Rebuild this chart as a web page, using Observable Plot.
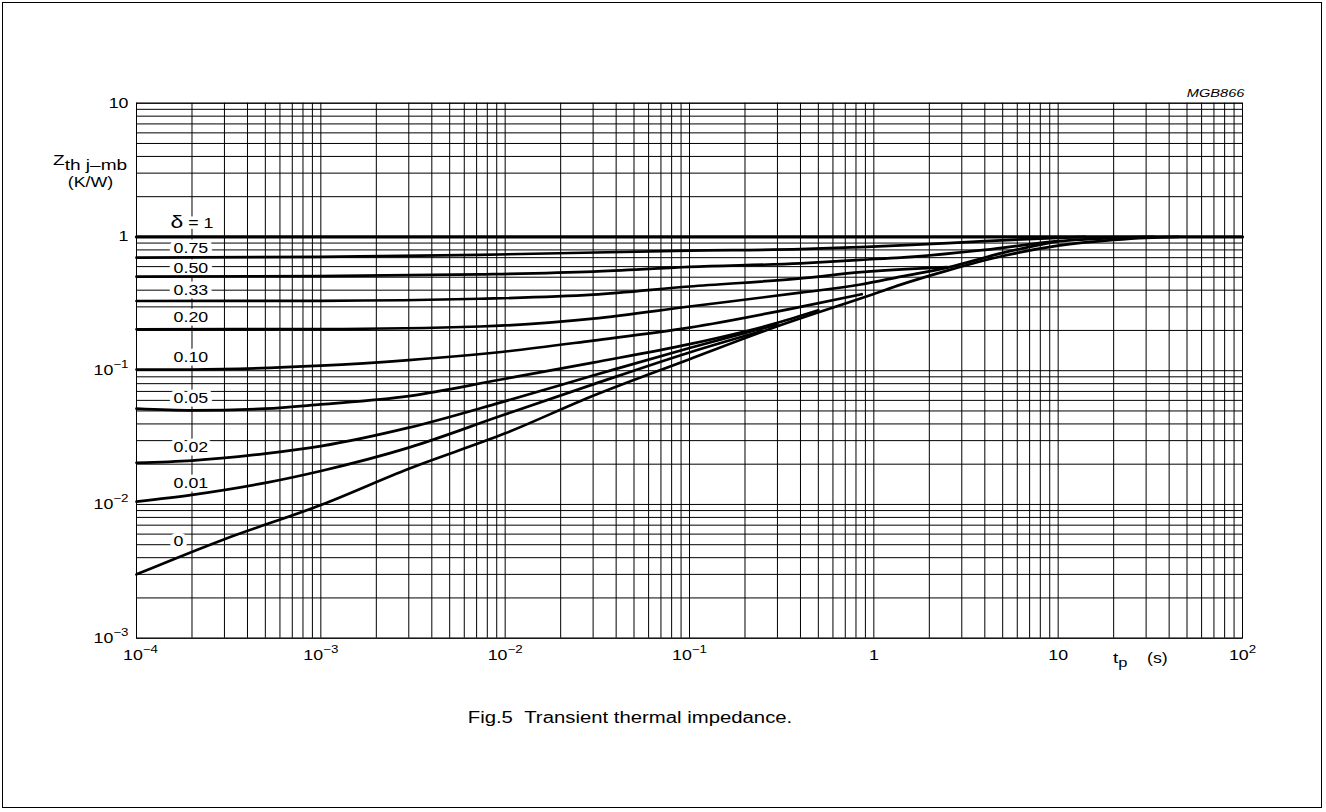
<!DOCTYPE html>
<html>
<head>
<meta charset="utf-8">
<script src="https://cdn.jsdelivr.net/npm/d3@7"></script>
<script src="https://cdn.jsdelivr.net/npm/@observablehq/plot@0.6"></script>
<style>
html,body{margin:0;padding:0;background:#fff;}
body{width:1326px;height:812px;position:relative;overflow:hidden;font-family:"Liberation Sans",Arial,Helvetica,sans-serif;color:#000;}
#border{position:absolute;left:2px;top:2px;width:1320px;height:806px;border:1px solid #000;box-sizing:border-box;}
#chart{position:absolute;left:0;top:0;}
.st{position:absolute;white-space:nowrap;transform:scaleX(1.27);}
</style>
</head>
<body>
<div id="border"></div>
<div id="chart"></div>
<div class="st" style="right:82px;top:87px;font-size:11.5px;line-height:12px;font-style:italic;transform-origin:right center;">MGB866</div>
<div class="st" style="left:53px;top:152px;font-size:15px;line-height:15px;transform-origin:left center;">Z<span style="position:relative;top:5px;">th j–mb</span></div>
<div class="st" style="left:0;width:181px;text-align:center;top:175px;font-size:14px;line-height:14px;">(K/W)</div>
<div class="st" style="left:1113px;top:650px;font-size:15px;line-height:15px;transform-origin:left center;">t<span style="font-size:13px;position:relative;top:4px;">p</span></div>
<div class="st" style="left:1147px;top:651px;font-size:14px;line-height:14px;transform-origin:left center;">(s)</div>
<div class="st" style="left:0;width:1260px;text-align:center;top:709.5px;font-size:16px;line-height:16px;">Fig.5&nbsp;&nbsp;Transient thermal impedance.</div>
<script>
const STRETCH = 1.27;

// Axis ticks
const xTickValues = [1e-4, 1e-3, 1e-2, 1e-1, 1, 10, 100];
const xTickLabels = ["10^−4", "10^−3", "10^−2", "10^−1", "1", "10", "10^2"];
const yTickValues = [1e-3, 1e-2, 1e-1, 1, 10];
const yTickLabels = ["10^−3", "10^−2", "10^−1", "1", "10"];

// Grid (1..9 per decade)
const gridMult = [1, 2, 3, 4, 5, 6, 7, 8, 9];
const xDecades = [1e-4, 1e-3, 1e-2, 1e-1, 1, 10];
const yDecades = [1e-3, 1e-2, 1e-1, 1];

// Curve labels (left-aligned)
const deltaLabels = ["δ = 1", "0.75", "0.50", "0.33", "0.20", "0.10", "0.05", "0.02", "0.01", "0"];
const labelZ = [1.26, 0.816, 0.578, 0.396, 0.249, 0.125, 0.0618, 0.0266, 0.0144, 0.00527];
const labelT = 1.59e-4;

// Curves: tp (s) and Zth (K/W)
const tD1 = [1e-4, 100];
const zD1 = [1, 1];
const tD075 = [1e-4, 1e-3, 7.3e-3, 0.1, 0.4, 0.85, 1.4, 4, 10, 14];
const zD075 = [0.70, 0.71, 0.735, 0.79, 0.81, 0.84, 0.864, 0.93, 0.985, 1.0];
const tD050 = [1e-4, 1e-3, 7.3e-3, 0.03, 0.1, 0.4, 0.85, 1.4, 4, 10, 20, 33];
const zD050 = [0.505, 0.51, 0.525, 0.55, 0.597, 0.635, 0.675, 0.70, 0.80, 0.93, 0.98, 1.0];
const tD033 = [1e-4, 1e-3, 7.3e-3, 0.03, 0.1, 0.4, 0.85, 1.5, 2.5];
const zD033 = [0.332, 0.333, 0.345, 0.37, 0.426, 0.49, 0.545, 0.575, 0.595];
const tD020 = [1e-4, 1e-3, 7.3e-3, 0.03, 0.1, 0.4, 0.85, 1.4, 2.5, 5, 10];
const zD020 = [0.204, 0.205, 0.214, 0.245, 0.302, 0.383, 0.441, 0.505, 0.59, 0.76, 0.93];
const tD010 = [1e-4, 2e-4, 1e-3, 3e-3, 9.5e-3, 0.03, 0.1, 0.4, 0.86];
const zD010 = [0.102, 0.102, 0.109, 0.12, 0.138, 0.168, 0.21, 0.30, 0.373];
const tD005 = [1e-4, 2e-4, 5e-4, 1e-3, 3e-3, 9.5e-3, 0.03, 0.1, 0.3, 0.5];
const zD005 = [0.052, 0.0505, 0.052, 0.056, 0.0646, 0.086, 0.115, 0.158, 0.228, 0.283];
const tD002 = [1e-4, 2e-4, 5e-4, 1e-3, 3e-3, 9.5e-3, 0.03, 0.1, 0.3];
const zD002 = [0.0205, 0.0213, 0.024, 0.0273, 0.0375, 0.058, 0.092, 0.148, 0.222];
const tD001 = [1e-4, 2e-4, 5e-4, 1e-3, 3e-3, 9.5e-3, 0.03, 0.1, 0.25];
const zD001 = [0.0105, 0.0118, 0.0145, 0.0178, 0.0266, 0.046, 0.079, 0.137, 0.199];
const tD0 = [1e-4, 3e-4, 1e-3, 3e-3, 1e-2, 3e-2, 0.1, 0.3, 1, 1.4, 2.5, 5, 10, 20, 30, 45];
const zD0 = [0.003, 0.0055, 0.0099, 0.0185, 0.034, 0.065, 0.122, 0.215, 0.375, 0.44, 0.56, 0.72, 0.86, 0.95, 0.985, 1.0];

const series = [
  ["0.75", tD075, zD075], ["0.50", tD050, zD050], ["0.33", tD033, zD033],
  ["0.20", tD020, zD020], ["0.10", tD010, zD010], ["0.05", tD005, zD005],
  ["0.02", tD002, zD002], ["0.01", tD001, zD001], ["0", tD0, zD0]
];
const rows = series.flatMap(([name, t, z]) => t.map((v, i) => ({name, t: v, z: z[i]})));
const rowsD1 = tD1.map((v, i) => ({t: v, z: zD1[i]}));
const labelRows = deltaLabels.map((label, i) => ({label, t: labelT, z: labelZ[i]}));

const gridX = xDecades.flatMap(d => gridMult.map(m => m * d)).concat([100]);
const gridY = yDecades.flatMap(d => gridMult.map(m => m * d)).concat([10]);

const findLabel = (vals, labs) => d => {
  const i = vals.findIndex(v => Math.abs(Math.log10(v) - Math.log10(d)) < 1e-6);
  return i >= 0 ? labs[i] : "";
};

const plot = Plot.plot({
  width: 1326,
  height: 700,
  marginLeft: 136,
  marginRight: 84,
  marginTop: 102.7,
  marginBottom: 62.3,
  style: {fontFamily: "Liberation Sans, Arial, Helvetica, sans-serif", fontSize: "14px", background: "transparent", color: "#000"},
  x: {type: "log", domain: [1e-4, 100], ticks: xTickValues, tickFormat: findLabel(xTickValues, xTickLabels), tickSize: 0, tickPadding: 12, label: null},
  y: {type: "log", domain: [1e-3, 10], ticks: yTickValues, tickFormat: findLabel(yTickValues, yTickLabels), tickSize: 0, tickPadding: 8, label: null},
  marks: [
    Plot.ruleX(gridX, {stroke: "#000", strokeWidth: 1}),
    Plot.ruleY(gridY, {stroke: "#000", strokeWidth: 1}),
    Plot.frame({stroke: "#000", strokeWidth: 1}),
    Plot.text(labelRows, {x: "t", y: "z", text: "label", fill: "#000", stroke: "#fff", strokeWidth: 7, fontSize: 14, textAnchor: "start"}),
    Plot.line(rows, {x: "t", y: "z", z: "name", stroke: "#000", strokeWidth: 2.7, curve: "monotone-x"}),
    Plot.line(rowsD1, {x: "t", y: "z", stroke: "#000", strokeWidth: 3.2})
  ]
});

const NS = "http://www.w3.org/2000/svg";
plot.querySelectorAll("text").forEach(el => {
  const txt = el.textContent;
  const parentLabel = (el.parentNode && el.parentNode.getAttribute && el.parentNode.getAttribute("aria-label")) || "";
  let extra = "";
  if (txt.includes("^")) {
    const [b, e] = txt.split("^");
    el.textContent = "";
    const t1 = document.createElementNS(NS, "tspan");
    t1.textContent = b;
    const t2 = document.createElementNS(NS, "tspan");
    t2.textContent = e;
    t2.setAttribute("font-size", "10.5");
    t2.setAttribute("dy", "-0.68em");
    el.append(t1, t2);
    if (parentLabel.includes("x-axis") && txt === "10^−4") extra = " translate(4,0)";
  } else if (txt === "δ = 1") {
    el.textContent = "";
    const t1 = document.createElementNS(NS, "tspan");
    t1.textContent = "δ";
    t1.setAttribute("font-size", "18");
    const t2 = document.createElementNS(NS, "tspan");
    t2.textContent = " = 1";
    el.append(t1, t2);
    extra = " translate(-3,0)";
  }
  const tr = el.getAttribute("transform") || "";
  const xa = el.getAttribute("x");
  const x = xa && !/em$/.test(xa) ? (+xa || 0) : 0;
  if (xa && !/em$/.test(xa)) el.removeAttribute("x");
  el.setAttribute("transform", `${tr} translate(${x},0)${extra} scale(${STRETCH},1)`);
});

document.getElementById("chart").appendChild(plot);
</script>
</body>
</html>
